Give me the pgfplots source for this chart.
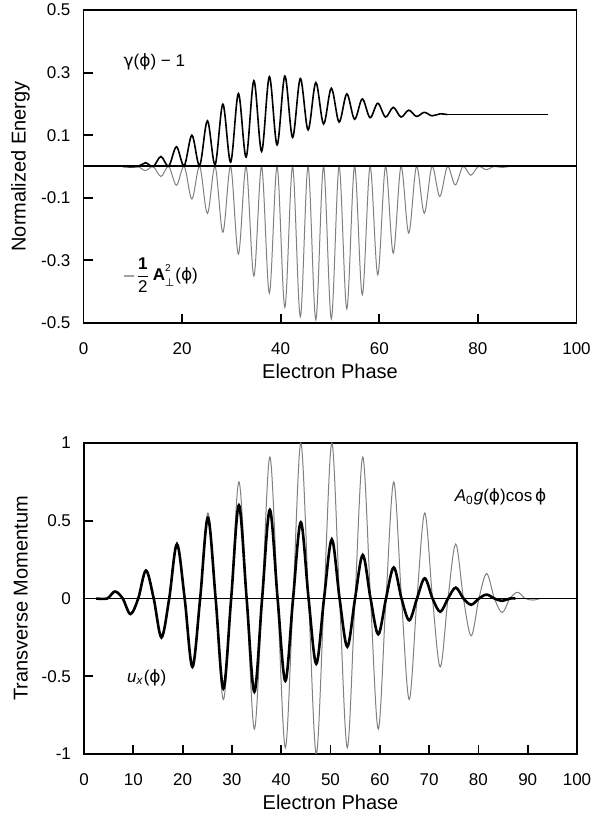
\documentclass[border=0pt]{standalone}
\usepackage{fontspec}
\setmainfont{Liberation Sans}
\newfontfamily\symfont{DejaVu Sans}
\usepackage{pgfplots}
\pgfplotsset{compat=1.18}

\newcommand\ph{{\symfont ϕ}}

\pgfplotsset{
  panel/.style={
    scale only axis,
    width=246.5pt,
    xmin=0, xmax=100,
    tick pos=left, tick align=inside,
    major tick length=4.5pt,
    axis line style={line width=0.9pt},
    every tick/.style={black, line width=0.9pt},
    tick label style={font=\fontsize{8.5}{10}\selectfont},
    label style={font=\fontsize{8.8}{10}\selectfont},
    xticklabel style={yshift=-6.5pt},
    yticklabel style={xshift=-3pt},
    /pgf/number format/assume math mode=true,
    xlabel={Electron Phase},
    every axis y label/.style={at={(axis description cs:-0.128,0.5)}, rotate=90, anchor=center},
    every axis x label/.style={at={(axis description cs:0.5,0)}, yshift=-24pt, anchor=center},
  },
  greyline/.style={black!50, line width=0.5pt, smooth, tension=0.55},
}

\begin{document}
\begin{tikzpicture}
\path[use as bounding box] (0pt,0pt) rectangle (305pt,409.5pt);

% top panel: energy
\begin{axis}[panel,
  at={(41.75pt,248pt)}, anchor=south west,
  height=156.5pt,
  ymin=-0.5, ymax=0.5,
  ytick={-0.5,-0.3,-0.1,0.1,0.3,0.5},
  yticklabels={-0.5,-0.3,-0.1,0.1,0.3,0.5},
  xtick={0,20,...,100},
  ylabel={Normalized Energy},
]
% -1/2 A^2
\addplot[greyline] coordinates {
(8,0) (9.42,-0.002) (10.99,0) (12.57,-0.013) (14.14,0) (15.71,-0.032) (17.28,0)
(18.85,-0.06) (20.42,0) (21.99,-0.104) (23.56,0) (25.13,-0.15) (26.70,0)
(28.27,-0.21) (29.85,0) (31.42,-0.28) (32.99,0) (34.56,-0.35) (36.13,0)
(37.70,-0.405) (39.27,0) (40.84,-0.45) (42.41,0) (43.98,-0.48) (45.55,0)
(47.12,-0.49) (48.69,0) (50.27,-0.487) (51.84,0) (53.41,-0.455) (54.98,0)
(56.55,-0.41) (58.12,0) (59.69,-0.346) (61.26,0) (62.83,-0.277) (64.40,0)
(65.97,-0.213) (67.54,0) (69.12,-0.149) (70.69,0) (72.26,-0.096) (73.83,0)
(75.40,-0.059) (76.97,0) (78.54,-0.028) (80.11,0) (81.68,-0.01) (83.25,0)
(84.82,-0.003) (86.4,0)
};
% gamma - 1
\addplot[black, line width=0.8pt, smooth, tension=0.55] coordinates {
(8,0) (11.0,0.0) (12.57,0.012) (14.14,0.0) (15.71,0.032) (17.28,0.001)
(18.85,0.063) (20.42,0.002) (21.99,0.1) (23.56,0.003) (25.13,0.146) (26.70,0.006)
(28.27,0.199) (29.85,0.014) (31.42,0.233) (32.99,0.03) (34.56,0.274) (36.13,0.048)
(37.70,0.287) (39.27,0.069) (40.84,0.289) (42.41,0.093) (43.98,0.281) (45.55,0.117)
(47.12,0.268) (48.69,0.136) (50.27,0.25) (51.84,0.142) (53.41,0.232) (54.98,0.151)
(56.55,0.216) (58.12,0.156) (59.69,0.202) (61.26,0.158) (62.83,0.189) (64.40,0.158)
(65.97,0.18) (67.54,0.16) (69.12,0.173) (70.69,0.162) (72.26,0.168) (73.8,0.166)
};
\addplot[black, line width=0.8pt] coordinates {(73.8,0.166) (94.2,0.166)};
\addplot[black, line width=1pt] coordinates {(0,0) (100,0)};
\node[anchor=west, font=\fontsize{8.5}{10}\selectfont] at (axis cs:6.7,0.334) {{\symfont γ}(\ph) − 1};
\node[anchor=west, font=\fontsize{8.5}{10}\selectfont] at (axis cs:6.5,-0.347)
  {$\displaystyle -\frac{\mbox{\bfseries 1}}{\mbox{2}}$\,\textbf{A}\raisebox{4.6pt}{\fontsize{5}{5}\selectfont 2}\kern-2.9pt\raisebox{-3pt}{\fontsize{5.5}{5.5}\selectfont\symfont ⊥}\kern0.4pt(\ph)};
\end{axis}

% bottom panel: transverse momentum
\begin{axis}[panel,
  at={(42pt,32.5pt)}, anchor=south west,
  height=155.5pt,
  ymin=-1, ymax=1,
  ytick={-1,-0.5,0,0.5,1},
  yticklabels={-1,-0.5,0,0.5,1},
  xtick={0,10,...,100},
  ylabel={Transverse Momentum},
]
% A0 g cos phi
\addplot[greyline] coordinates {
(2.5,0) (4.7,0) (6.28,0.04) (7.85,0) (9.42,-0.1) (11.0,0) (12.57,0.18) (14.14,0)
(15.71,-0.26) (17.28,0) (18.85,0.35) (20.42,0) (21.99,-0.44) (23.56,0) (25.13,0.55)
(26.70,0) (28.27,-0.65) (29.85,0) (31.42,0.75) (32.99,0) (34.56,-0.84) (36.13,0)
(37.70,0.91) (39.27,0) (40.84,-0.96) (42.41,0) (43.98,1.0) (45.55,0) (47.12,-1.0)
(48.69,0) (50.27,1.0) (51.84,0) (53.41,-0.96) (54.98,0) (56.55,0.91) (58.12,0)
(59.69,-0.84) (61.26,0) (62.83,0.75) (64.40,0) (65.97,-0.65) (67.54,0) (69.12,0.55)
(70.69,0) (72.26,-0.44) (73.83,0) (75.40,0.35) (76.97,0) (78.54,-0.24) (80.11,0)
(81.68,0.16) (83.25,0) (84.82,-0.09) (86.4,0) (87.96,0.04) (89.5,0) (91.1,-0.01) (92.5,0)
};
% u_x
\addplot[black, line width=1.3pt, smooth, tension=0.55] coordinates {
(2.5,0) (4.7,0) (6.28,0.045) (7.85,0) (9.42,-0.1) (11.0,0) (12.57,0.18) (14.14,0)
(15.71,-0.25) (17.28,0) (18.85,0.35) (20.42,0) (21.99,-0.44) (23.56,0) (25.13,0.52)
(26.70,0) (28.27,-0.58) (29.85,0) (31.42,0.60) (32.99,0) (34.56,-0.60) (36.13,0)
(37.70,0.57) (39.27,0) (40.84,-0.53) (42.41,0) (43.98,0.49) (45.55,0) (47.12,-0.42)
(48.69,0) (50.27,0.38) (51.84,0) (53.41,-0.31) (54.98,0) (56.55,0.28) (58.12,0)
(59.69,-0.23) (61.26,0) (62.83,0.20) (64.40,0) (65.97,-0.14) (67.54,0) (69.12,0.13)
(70.69,0) (72.26,-0.085) (73.83,0) (75.40,0.07) (76.97,0) (78.54,-0.04) (80.11,0)
(81.68,0.025) (83.25,0) (84.82,-0.015) (86.4,0) (87.5,0)
};
\addplot[black, line width=0.9pt] coordinates {(0,0) (100,0)};
\node[anchor=west, font=\fontsize{8.5}{10}\selectfont] at (axis cs:73.8,0.653)
  {\textit{A}\textsubscript{0}\textit{g}(\ph)cos\,\ph};
\node[anchor=west, font=\fontsize{8.5}{10}\selectfont] at (axis cs:7.3,-0.51)
  {\textit{u}\textsubscript{\textit{x}}(\ph)};
\end{axis}
\end{tikzpicture}
\end{document}
